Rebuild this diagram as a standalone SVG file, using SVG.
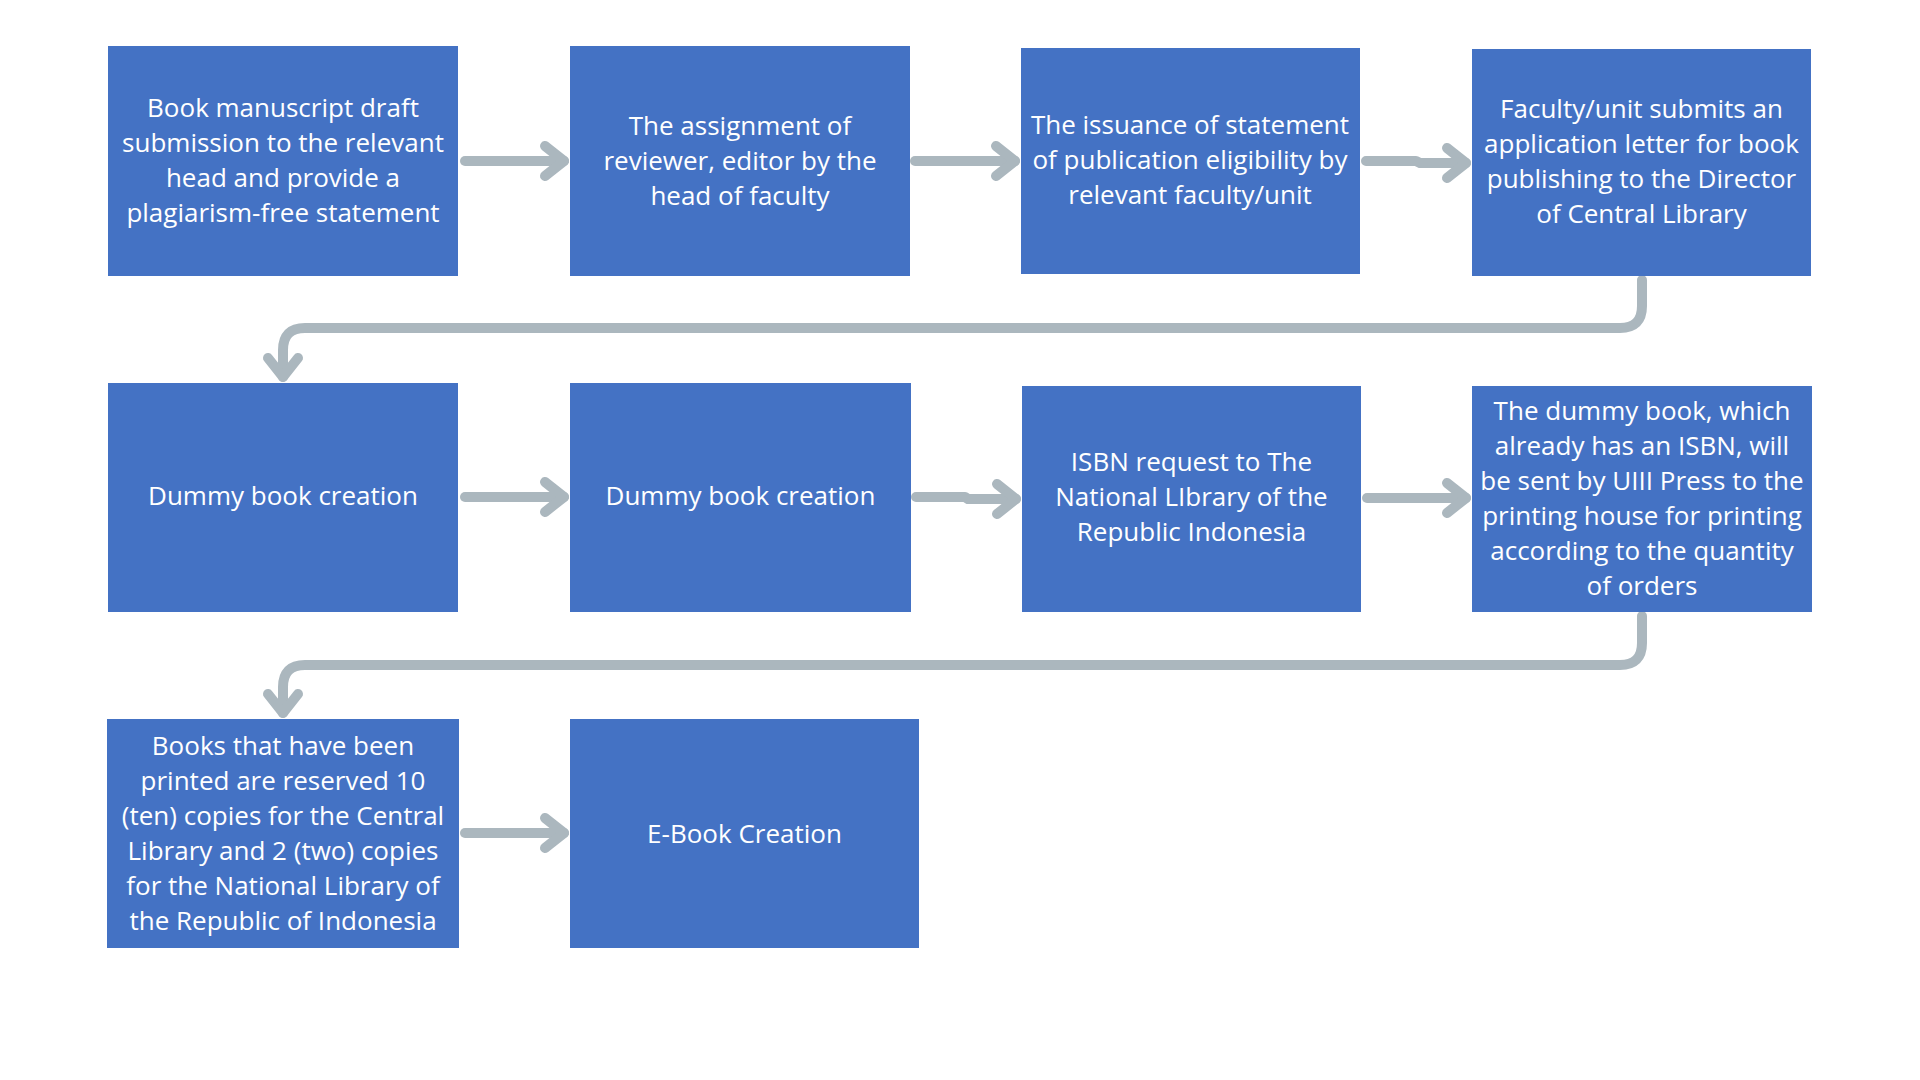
<svg xmlns="http://www.w3.org/2000/svg" width="1920" height="1080" viewBox="0 0 1920 1080">
  <style>
    .box { fill: #4472C4; }
    .lbl { font-family: "Open Sans", "Noto Sans", "DejaVu Sans", sans-serif; font-size: 26px; fill: #FFFFFF; text-anchor: middle; }
    .conn { fill: none; stroke: #ABB7BE; stroke-width: 10; stroke-linecap: round; stroke-linejoin: round; }
  </style>
  <defs>
    <marker id="chev" markerUnits="userSpaceOnUse" viewBox="-30 -25 40 50" refX="0" refY="0" markerWidth="40" markerHeight="50" orient="auto" overflow="visible">
      <path d="M-19,-15 L0,0 L-19,15" fill="none" stroke="#ABB7BE" stroke-width="10" stroke-linecap="round" stroke-linejoin="round"/>
    </marker>
  </defs>
  <rect width="1920" height="1080" fill="#FFFFFF"/>

  <g id="connectors">
    <path class="conn" d="M465,161 L564,161" marker-end="url(#chev)"/>
    <path class="conn" d="M915,161 L1015,161" marker-end="url(#chev)"/>
    <path class="conn" d="M1366,161 L1416,161 L1420,163 L1466,163" marker-end="url(#chev)"/>
    <path class="conn" d="M1642,280 L1642,306 Q1642,328 1620,328 L305,328 Q283,328 283,350 L283,377" marker-end="url(#chev)"/>
    <path class="conn" d="M465,497 L564,497" marker-end="url(#chev)"/>
    <path class="conn" d="M916,497 L965,497 L968,499 L1016,499" marker-end="url(#chev)"/>
    <path class="conn" d="M1367,498 L1466,498" marker-end="url(#chev)"/>
    <path class="conn" d="M1642,616 L1642,643 Q1642,665 1620,665 L305,665 Q283,665 283,687 L283,713" marker-end="url(#chev)"/>
    <path class="conn" d="M465,833 L564,833" marker-end="url(#chev)"/>
  </g>

  <g id="node1">
    <rect class="box" x="108" y="46" width="350" height="230"/>
    <text class="lbl"><tspan x="283" y="117">Book manuscript draft</tspan><tspan x="283" y="152">submission to the relevant</tspan><tspan x="283" y="187">head and provide a</tspan><tspan x="283" y="222">plagiarism-free statement</tspan></text>
  </g>
  <g id="node2">
    <rect class="box" x="570" y="46" width="340" height="230"/>
    <text class="lbl"><tspan x="740" y="135">The assignment of</tspan><tspan x="740" y="170">reviewer, editor by the</tspan><tspan x="740" y="205">head of faculty</tspan></text>
  </g>
  <g id="node3">
    <rect class="box" x="1021" y="48" width="339" height="226"/>
    <text class="lbl"><tspan x="1190" y="134">The issuance of statement</tspan><tspan x="1190" y="169">of publication eligibility by</tspan><tspan x="1190" y="204">relevant faculty/unit</tspan></text>
  </g>
  <g id="node4">
    <rect class="box" x="1472" y="49" width="339" height="227"/>
    <text class="lbl"><tspan x="1641.5" y="118">Faculty/unit submits an</tspan><tspan x="1641.5" y="153">application letter for book</tspan><tspan x="1641.5" y="188">publishing to the Director</tspan><tspan x="1641.5" y="223">of Central Library</tspan></text>
  </g>
  <g id="node5">
    <rect class="box" x="108" y="383" width="350" height="229"/>
    <text class="lbl" x="283" y="505">Dummy book creation</text>
  </g>
  <g id="node6">
    <rect class="box" x="570" y="383" width="341" height="229"/>
    <text class="lbl" x="740.5" y="505">Dummy book creation</text>
  </g>
  <g id="node7">
    <rect class="box" x="1022" y="386" width="339" height="226"/>
    <text class="lbl"><tspan x="1191.5" y="471">ISBN request to The</tspan><tspan x="1191.5" y="506">National LIbrary of the</tspan><tspan x="1191.5" y="541">Republic Indonesia</tspan></text>
  </g>
  <g id="node8">
    <rect class="box" x="1472" y="386" width="340" height="226"/>
    <text class="lbl"><tspan x="1642" y="420">The dummy book, which</tspan><tspan x="1642" y="455">already has an ISBN, will</tspan><tspan x="1642" y="490">be sent by UIII Press to the</tspan><tspan x="1642" y="525">printing house for printing</tspan><tspan x="1642" y="560">according to the quantity</tspan><tspan x="1642" y="595">of orders</tspan></text>
  </g>
  <g id="node9">
    <rect class="box" x="107" y="719" width="352" height="229"/>
    <text class="lbl"><tspan x="283" y="755">Books that have been</tspan><tspan x="283" y="790">printed are reserved 10</tspan><tspan x="283" y="825">(ten) copies for the Central</tspan><tspan x="283" y="860">Library and 2 (two) copies</tspan><tspan x="283" y="895">for the National Library of</tspan><tspan x="283" y="930">the Republic of Indonesia</tspan></text>
  </g>
  <g id="node10">
    <rect class="box" x="570" y="719" width="349" height="229"/>
    <text class="lbl" x="744.5" y="843">E-Book Creation</text>
  </g>
</svg>
